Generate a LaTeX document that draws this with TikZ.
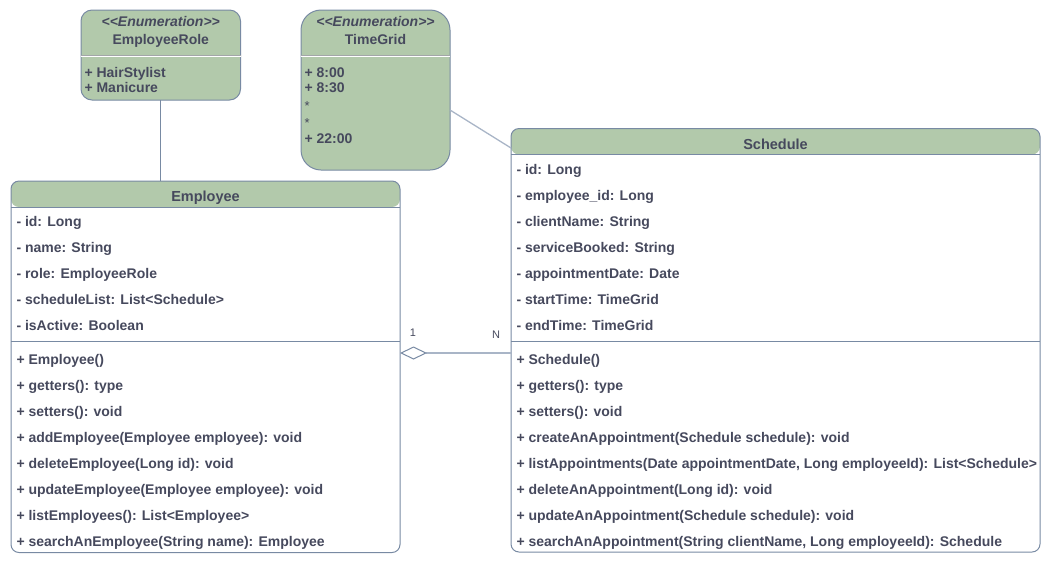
\documentclass[tikz,border=0pt]{standalone}
\usepackage{fontspec}
\setmainfont{Liberation Sans}
\usetikzlibrary{arrows.meta}
\definecolor{umlfill}{HTML}{B2C9AB}
\definecolor{umlline}{HTML}{788AA3}
\definecolor{umltext}{HTML}{46495D}
\definecolor{umllink}{HTML}{A9B5C7}
\definecolor{umlsep}{HTML}{A3A6A8}

\begin{document}
\begin{tikzpicture}[x=1pt,y=-1pt,line width=1pt,
  classbox/.style={draw=umlline,fill=white,rounded corners=8pt,inner sep=0pt,outer sep=0pt,anchor=north west,
    path picture={\fill[umlfill] (path picture bounding box.north west) rectangle ([yshift=-26pt]path picture bounding box.north east);}},
  enumbox/.style={draw=umlline,fill=umlfill,inner sep=0pt,outer sep=0pt,anchor=north west},
  member/.style={anchor=base west,inner sep=0pt,text=umltext,font=\fontsize{14}{16}\selectfont\bfseries},
  dots/.style={anchor=base west,inner sep=0pt,text=umltext,font=\fontsize{13}{16}\selectfont},
  classtitle/.style={anchor=base,inner sep=0pt,text=umltext,font=\fontsize{14.5}{16}\selectfont\bfseries},
  stereo/.style={anchor=base,inner sep=0pt,text=umltext,font=\fontsize{14}{16}\selectfont\bfseries\itshape},
  mult/.style={anchor=base,inner sep=0pt,text=umltext,font=\fontsize{11}{12}\selectfont},
  link/.style={draw=umllink},
  rule/.style={draw=umlline},
]
\useasboundingbox (0,0) rectangle (1051,566);

% ---------- enumerations ----------
\node[enumbox,rounded corners=11pt,minimum width=159.5pt,minimum height=90pt] (role) at (81,10) {};
\draw[umlsep] (role.west |- 0,55.4) -- (role.east |- 0,55.4);
\draw[white] (role.west |- 0,56.6) -- (role.east |- 0,56.6);
\node[stereo] (roleS) at (160.75,26) {{<}{<}Enumeration{>}{>}};
\node[member] (roleN) at (160.75,44.3) [anchor=base] {EmployeeRole};
\node[member] (roleA) at (84,77.3) {+ HairStylist};
\node[member] (roleB) at (84,92.5) {+ Manicure};

\node[enumbox,rounded corners=20pt,minimum width=149pt,minimum height=160pt] (grid) at (301,10) {};
\draw[umlsep] (grid.west |- 0,55.4) -- (grid.east |- 0,55.4);
\draw[white] (grid.west |- 0,56.6) -- (grid.east |- 0,56.6);
\node[stereo] (gridS) at (375.5,26) {{<}{<}Enumeration{>}{>}};
\node[member] (gridN) at (375.5,44.3) [anchor=base] {TimeGrid};
\node[member] (gridA) at (304,77.3) {+ 8:00};
\node[member] (gridB) at (304,92.5) {+ 8:30};
\node[dots] (gridC) at (304,110) {*};
\node[dots] (gridD) at (304,127) {*};
\node[member] (gridE) at (304,143.3) {+ 22:00};

% ---------- Employee ----------
\node[classbox,minimum width=389pt,minimum height=371.5pt] (emp) at (11,181) {};
\draw[rule] ([yshift=-26pt]emp.north west) -- ([yshift=-26pt]emp.north east);
\draw[rule] (emp.west |- 0,341) -- (emp.east |- 0,341);
\node[classtitle] (empT) at (205.5,201) {Employee};
\foreach \t [count=\i] in {- id: Long, - name: String, - role: EmployeeRole,
    - scheduleList: List<Schedule>, - isActive: Boolean}
  \node[member] (empA\i) at (16,200+26*\i) {\t};
\foreach \t [count=\i] in {+ Employee(), + getters(): type, + setters(): void,
    + addEmployee(Employee employee): void, + deleteEmployee(Long id): void,
    + updateEmployee(Employee employee): void, + listEmployees(): List<Employee>,
    + searchAnEmployee(String name): Employee}
  \node[member] (empM\i) at (16,338+26*\i) {\t};

% ---------- Schedule ----------
\node[classbox,minimum width=529pt,minimum height=423.5pt] (sch) at (511,128.5) {};
\draw[rule] ([yshift=-26pt]sch.north west) -- ([yshift=-26pt]sch.north east);
\draw[rule] (sch.west |- 0,341) -- (sch.east |- 0,341);
\node[classtitle] (schT) at (775.5,149) {Schedule};
\foreach \t [count=\i] in {- id: Long, - employee\_id: Long, - clientName: String,
    - serviceBooked: String, - appointmentDate: Date, - startTime: TimeGrid,
    - endTime: TimeGrid}
  \node[member] (schA\i) at (516,148+26*\i) {\t};
\foreach \t [count=\i] in {+ Schedule(), + getters(): type, + setters(): void,
    + createAnAppointment(Schedule schedule): void,
    {+ listAppointments(Date appointmentDate, Long employeeId): List<Schedule>},
    + deleteAnAppointment(Long id): void,
    + updateAnAppointment(Schedule schedule): void,
    {+ searchAnAppointment(String clientName, Long employeeId): Schedule}}
  \node[member] (schM\i) at (516,338+26*\i) {\t};

% ---------- connectors ----------
\draw[rule] (role.south) -- (role.south |- emp.north);
\draw[link,line width=1.3pt] ([yshift=-100pt]grid.north east) -- ([yshift=-19.5pt]sch.north west);
\draw[link,line width=1.3pt,-{Diamond[open,length=27pt,width=13pt,color=umlline,fill=white,line width=1pt]}]
  (sch.west |- 0,353) -- (emp.east |- 0,353);
\node[mult] (m1) at (413,336) {1};
\node[mult] (mN) at (496,338.5) {N};
\end{tikzpicture}
\end{document}
